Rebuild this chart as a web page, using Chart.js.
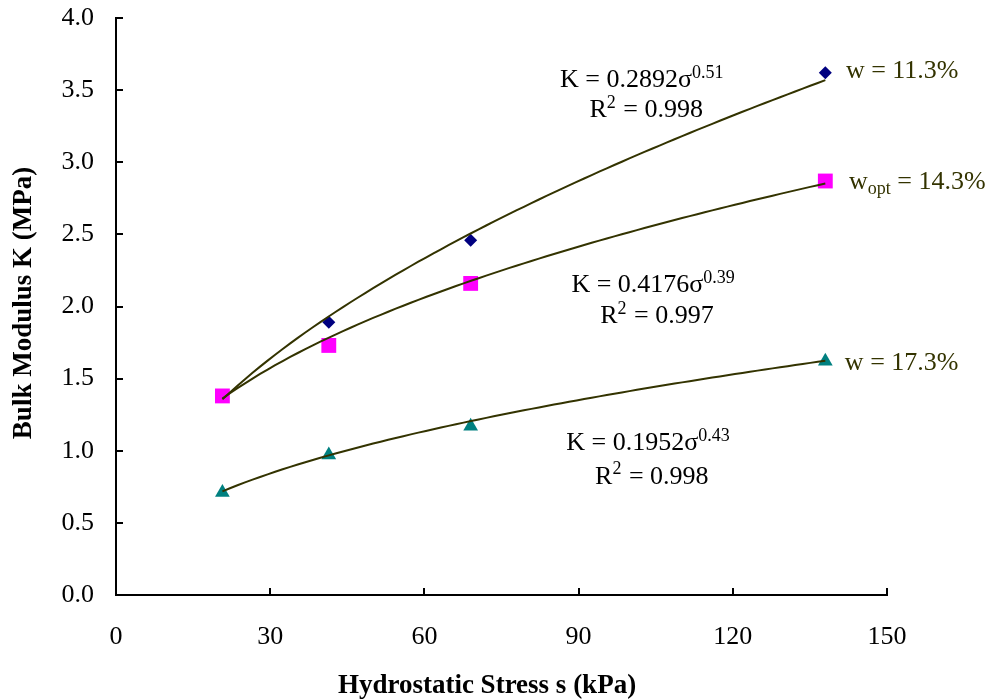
<!DOCTYPE html>
<html>
<head>
<meta charset="utf-8">
<script src="https://cdn.jsdelivr.net/npm/chart.js@4.4.1/dist/chart.umd.min.js"></script>
<style>
  html, body { margin: 0; background: #fff; }
  #wrap { width: 994px; height: 699px; }
</style>
</head>
<body>
<div id="wrap"><canvas id="chart"></canvas></div>
<script>
// hydrostatic stress (kPa) and measured bulk modulus (MPa) per moisture content
const stressKpa = [20.7, 41.4, 69.0, 138.0];
const kDry = [1.38, 1.89, 2.46, 3.62];   // w = 11.3%
const kOpt = [1.38, 1.73, 2.16, 2.87];   // wopt = 14.3%
const kWet = [0.71, 0.97, 1.17, 1.62];   // w = 17.3%

// power-law fits K = a * s^b
const fitCoef = [0.2892, 0.4176, 0.1952];
const fitExp = [0.51, 0.39, 0.43];
const fitR2 = ['0.998', '0.997', '0.998'];

const xTicks = [0, 30, 60, 90, 120, 150];
const yTicks = [0, 0.5, 1, 1.5, 2, 2.5, 3, 3.5, 4];

const SERIF = '"Liberation Serif", "Times New Roman", serif';
const FIT_COLOR = '#333300';

function fitCurve(i) {
  const pts = [];
  const x0 = stressKpa[0], x1 = stressKpa[stressKpa.length - 1];
  const n = 80;
  for (let k = 0; k <= n; k++) {
    const x = x0 + (x1 - x0) * k / n;
    pts.push({ x, y: fitCoef[i] * Math.pow(x, fitExp[i]) });
  }
  return pts;
}

function pts(ys) {
  return stressKpa.map((x, i) => ({ x, y: ys[i] }));
}

// text labels placed in data coordinates (left edge, vertical centre)
const notes = [
  { x: 86.4, y: 3.57, parts: [{ t: 'K = 0.2892σ' }, { t: '0.51', sup: true }] },
  { x: 92.1, y: 3.36, parts: [{ t: 'R' }, { t: '2', sup: true }, { t: ' = ' + fitR2[0] }] },
  { x: 88.6, y: 2.15, parts: [{ t: 'K = 0.4176σ' }, { t: '0.39', sup: true }] },
  { x: 94.2, y: 1.93, parts: [{ t: 'R' }, { t: '2', sup: true }, { t: ' = ' + fitR2[1] }] },
  { x: 87.6, y: 1.05, parts: [{ t: 'K = 0.1952σ' }, { t: '0.43', sup: true }] },
  { x: 93.2, y: 0.82, parts: [{ t: 'R' }, { t: '2', sup: true }, { t: ' = ' + fitR2[2] }] },
  { x: 142.0, y: 3.63, color: FIT_COLOR, parts: [{ t: 'w = 11.3%' }] },
  { x: 142.6, y: 2.86, color: FIT_COLOR, parts: [{ t: 'w' }, { t: 'opt', sub: true }, { t: ' = 14.3%' }] },
  { x: 141.8, y: 1.61, color: FIT_COLOR, parts: [{ t: 'w = 17.3%' }] },
];

function drawRich(ctx, x, y, parts, color) {
  ctx.fillStyle = color || '#000';
  ctx.textBaseline = 'middle';
  ctx.textAlign = 'left';
  let cx = x;
  parts.forEach((p) => {
    if (p.sup || p.sub) {
      ctx.font = '18px ' + SERIF;
      ctx.fillText(p.t, cx, y + (p.sup ? -7 : 7));
    } else {
      ctx.font = '26px ' + SERIF;
      ctx.fillText(p.t, cx, y);
    }
    cx += ctx.measureText(p.t).width + (p.sup ? 1 : 0);
  });
}

const decorPlugin = {
  id: 'decor',
  afterDraw(chart) {
    const { ctx, scales: { x, y } } = chart;
    ctx.save();
    // inward tick marks
    ctx.strokeStyle = '#000';
    ctx.lineWidth = 2;
    ctx.beginPath();
    xTicks.forEach((v) => {
      const px = Math.round(x.getPixelForValue(v));
      ctx.moveTo(px, y.bottom);
      ctx.lineTo(px, y.bottom - 7);
    });
    yTicks.forEach((v) => {
      const py = Math.round(y.getPixelForValue(v));
      ctx.moveTo(x.left, py);
      ctx.lineTo(x.left + 7, py);
    });
    ctx.stroke();

    notes.forEach((n) => drawRich(ctx, x.getPixelForValue(n.x), y.getPixelForValue(n.y), n.parts, n.color));

    // axis titles
    ctx.fillStyle = '#000';
    ctx.font = 'bold 27px ' + SERIF;
    ctx.textAlign = 'center';
    ctx.textBaseline = 'middle';
    ctx.fillText('Hydrostatic Stress s (kPa)', 487, 686);
    ctx.translate(24, 303);
    ctx.rotate(-Math.PI / 2);
    ctx.fillText('Bulk Modulus K (MPa)', 0, 0);
    ctx.restore();
  },
};

new Chart(document.getElementById('chart'), {
  type: 'scatter',
  data: {
    datasets: [
      { label: 'fit 11.3', data: fitCurve(0), showLine: true, pointRadius: 0, borderColor: FIT_COLOR, borderWidth: 2, order: 0 },
      { label: 'fit 14.3', data: fitCurve(1), showLine: true, pointRadius: 0, borderColor: FIT_COLOR, borderWidth: 2, order: 0 },
      { label: 'fit 17.3', data: fitCurve(2), showLine: true, pointRadius: 0, borderColor: FIT_COLOR, borderWidth: 2, order: 0 },
      { label: 'w = 14.3%', data: pts(kOpt), pointStyle: 'rect', pointRadius: 10.5, backgroundColor: '#ff00ff', borderColor: '#ff00ff', borderWidth: 0, order: 1 },
      { label: 'w = 11.3%', data: pts(kDry), pointStyle: 'rectRot', pointRadius: 6.5, backgroundColor: '#000080', borderColor: '#000080', borderWidth: 0, order: 2 },
      { label: 'w = 17.3%', data: pts(kWet), pointStyle: 'triangle', pointRadius: 8.5, backgroundColor: '#008080', borderColor: '#008080', borderWidth: 0, order: 2 },
    ],
  },
  options: {
    responsive: true,
    maintainAspectRatio: false,
    animation: false,
    layout: { padding: { top: 18, right: 107, left: 0, bottom: 0 } },
    plugins: { legend: { display: false }, tooltip: { enabled: false } },
    scales: {
      x: {
        type: 'linear',
        min: 0,
        max: 150,
        afterFit: (s) => { s.height = 104; },
        afterBuildTicks: (s) => { s.ticks = xTicks.map((v) => ({ value: v })); },
        grid: { display: false, drawTicks: false },
        border: { color: '#000', width: 2 },
        ticks: { color: '#000', padding: 27, font: { family: SERIF, size: 26 } },
      },
      y: {
        type: 'linear',
        min: 0,
        max: 4,
        afterFit: (s) => { s.width = 116; s.paddingTop = 0; s.paddingBottom = 0; },
        afterBuildTicks: (s) => { s.ticks = yTicks.map((v) => ({ value: v })); },
        grid: { display: false, drawTicks: false },
        border: { color: '#000', width: 2 },
        ticks: { color: '#000', padding: 22, font: { family: SERIF, size: 26 }, callback: (v) => v.toFixed(1) },
      },
    },
  },
  plugins: [decorPlugin],
});
</script>
</body>
</html>
